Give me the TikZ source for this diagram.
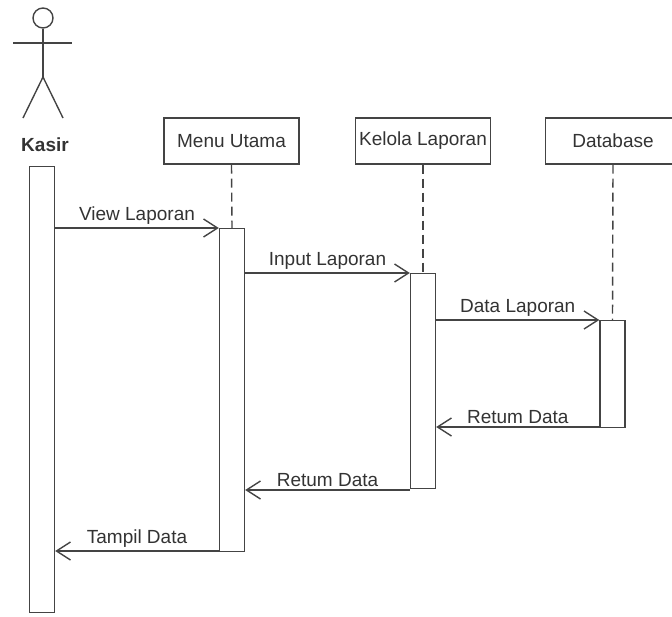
\documentclass[tikz,border=0pt]{standalone}
\usepackage{fontspec}
\setmainfont{Liberation Sans}
\usetikzlibrary{arrows.meta}
\definecolor{ln}{HTML}{444444}
\definecolor{tx}{HTML}{333333}
\begin{document}
\begin{tikzpicture}[x=1pt,y=-1pt,
  line width=1.4pt,
  obj/.style={draw=ln, line width=1.4pt, minimum width=135pt, minimum height=46pt, inner sep=0pt,
    font=\fontsize{19}{21}\selectfont, text=tx},
  act/.style={draw=ln, fill=white, line width=1.4pt, minimum width=25pt, inner sep=0pt, anchor=north},
  life/.style={draw=ln, dash pattern=on 9pt off 5pt, line width=1.4pt},
  msg/.style={draw=ln, line width=1.4pt, -{Straight Barb[length=14pt,width=18pt]}},
  lbl/.style={midway, above=3pt, inner sep=0pt, font=\fontsize{19}{21}\selectfont, text=tx},
  actorline/.style={draw=ln, line width=1.4pt}
]
\useasboundingbox (0,0) rectangle (672,616);

% actor
\node[draw=ln, line width=1.4pt, circle, minimum size=20pt, inner sep=0pt] (head) at (43,18) {};
\draw[actorline] (13,43) -- (72,43);
\draw[actorline] (head.south) -- (43,77);
\draw[actorline] (23,118) -- (43,77) -- (63,118);
\node[font=\fontsize{19}{21}\selectfont\bfseries, text=tx] (kasir) at (45,145) {Kasir};

% objects
\node[obj] (mu) at (231.5,141) {Menu Utama};
\node[obj] (kl) at (423,141) {Kelola Laporan};
\node[obj] (db) at (613,141) {Database};

% activations
\node[act, minimum height=446pt] (kasact) at (42,166) {};
\node[act, minimum height=323pt] (mact) at (232,228) {};
\node[act, minimum height=215pt] (kact) at (423,273) {};
\node[act, minimum height=107pt] (dact) at (612.5,320) {};

% lifelines
\draw[life] (mu.south) -- (mact.north);
\draw[life] (kl.south) -- (kact.north);
\draw[life] (db.south) -- (dact.north);

% messages
\draw[msg] (kasact.east |- 0,228) -- node[lbl] {View Laporan} (mact.west |- 0,228);
\draw[msg] (mact.east |- 0,273) -- node[lbl] {Input Laporan} (kact.west |- 0,273);
\draw[msg] (kact.east |- 0,320) -- node[lbl] {Data Laporan} (dact.west |- 0,320);
\draw[msg] (dact.west |- 0,427) -- node[lbl] {Retum Data} (kact.east |- 0,427);
\draw[msg] (kact.west |- 0,490) -- node[lbl] {Retum Data} (mact.east |- 0,490);
\draw[msg] (mact.west |- 0,551) -- node[lbl] {Tampil Data} (kasact.east |- 0,551);
\end{tikzpicture}
\end{document}
